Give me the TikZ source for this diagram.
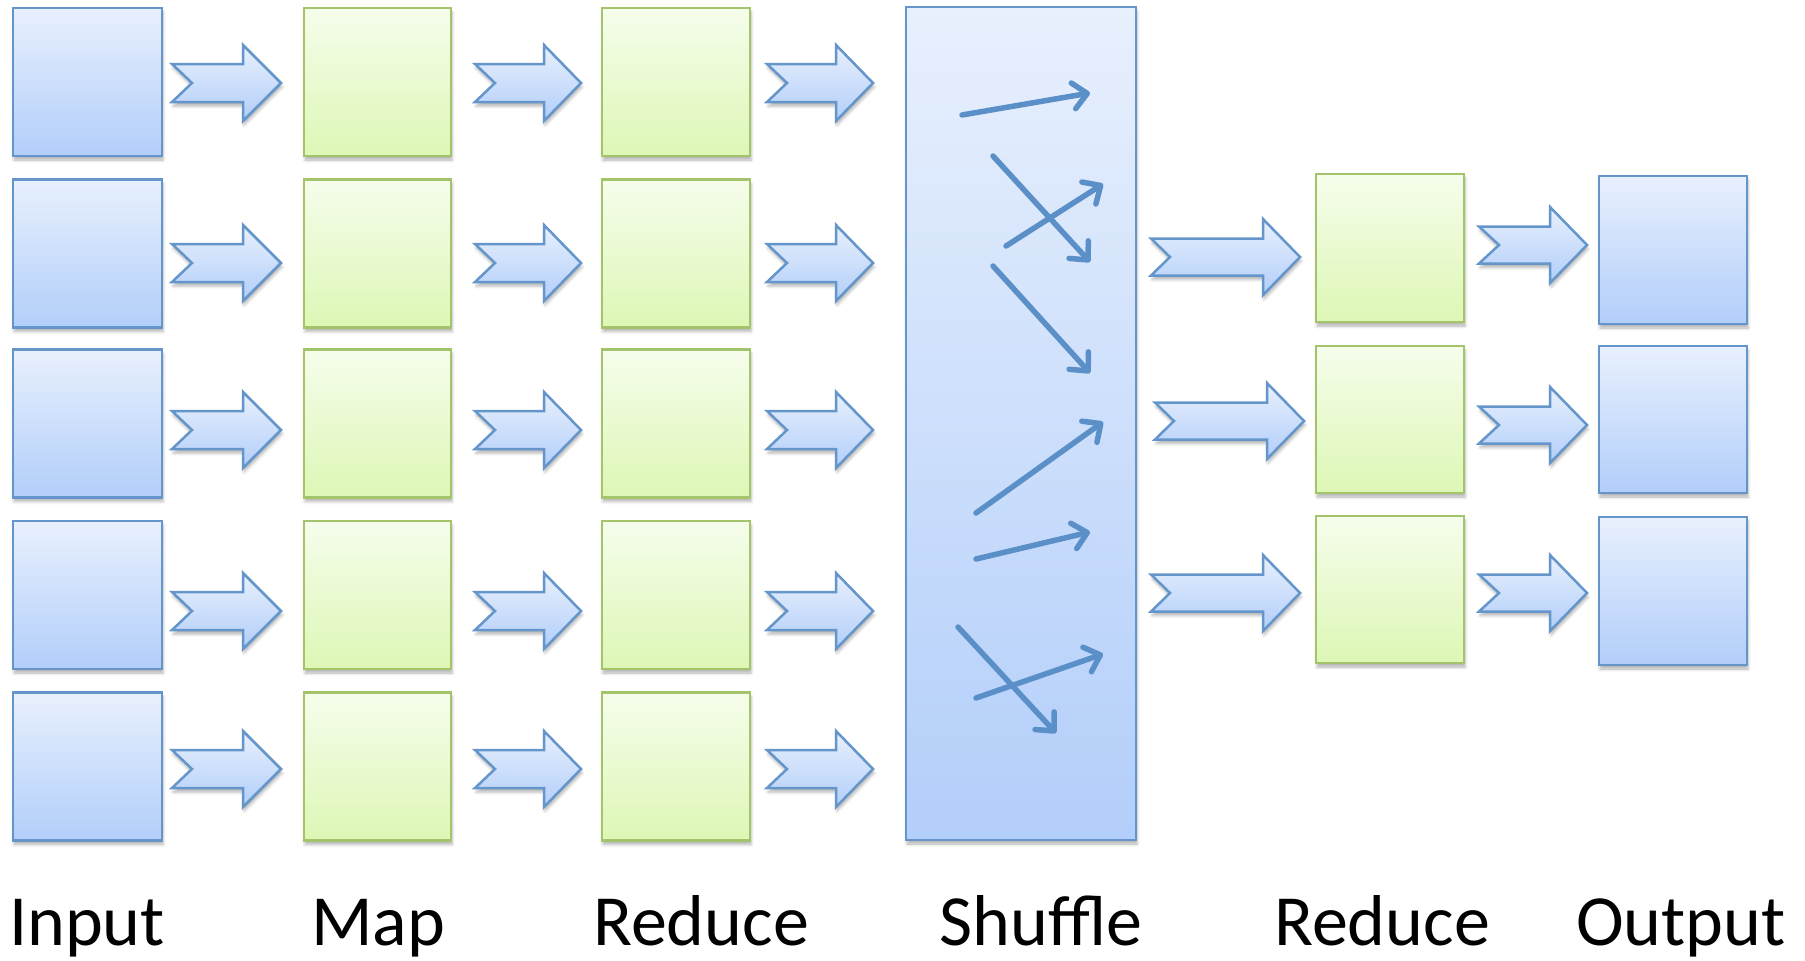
\documentclass[tikz,border=0pt]{standalone}
\usepackage{fontspec}
\setmainfont{Carlito}
\usetikzlibrary{arrows.meta,shadows.blur}

\definecolor{bluetop}{HTML}{E8F0FD}
\definecolor{bluebot}{HTML}{B2CEFA}
\definecolor{blueline}{HTML}{6496CB}
\definecolor{greentop}{HTML}{F6FDEC}
\definecolor{greenbot}{HTML}{DDF7B5}
\definecolor{greenline}{HTML}{A3C46A}
\definecolor{flowline}{HTML}{5B8FC8}

\tikzset{
  softshadow/.style={blur shadow={shadow xshift=1pt,shadow yshift=-4pt,shadow blur radius=3pt,shadow opacity=30}},
  bluebox/.style={draw=blueline,line width=2.5pt,top color=bluetop,bottom color=bluebot,
    inner sep=0pt,softshadow},
  greenbox/.style={draw=greenline,line width=2.5pt,top color=greentop,bottom color=greenbot,
    inner sep=0pt,softshadow},
  chevron/.style={draw=blueline,line width=2.5pt,line join=miter,top color=bluetop,bottom color=bluebot,softshadow},
  flow/.style={draw=flowline,line width=5.5pt,line cap=round,
    -{Straight Barb[length=14pt,width=26pt,round]}},
  label/.style={font=\fontsize{72}{86}\selectfont,anchor=base,inner sep=0pt},
}

% block arrow: left x, tip x, centre y, half shaft, half head, head length, notch depth
\newcommand{\chev}[7]{%
  \path[chevron] (#1,#3-#4) -- (#2-#6,#3-#4) -- (#2-#6,#3-#5) -- (#2,#3)
    -- (#2-#6,#3+#5) -- (#2-#6,#3+#4) -- (#1,#3+#4) -- (#1+#7,#3) -- cycle;}

\begin{document}
\begin{tikzpicture}[x=1pt,y=-1pt]
\useasboundingbox (0,0) rectangle (1805,961);

% input, map and first reduce columns
\foreach \i/\y in {1/82,2/253.5,3/423.5,4/595,5/766.5}{
  \node[bluebox,minimum width=149pt,minimum height=148pt] (in\i) at (87.5,\y) {};
  \node[greenbox,minimum width=147pt,minimum height=148pt] (map\i) at (377.5,\y) {};
  \node[greenbox,minimum width=148pt,minimum height=148pt] (red\i) at (676,\y) {};
}

% block arrows between the columns
\foreach \ay in {83,263,430,611,769}{
  \chev{172}{281}{\ay}{19}{38}{38}{20}
  \chev{475}{581}{\ay}{19}{38}{37}{20}
  \chev{767}{873}{\ay}{19}{38}{37}{20}
}

% shuffle stage
\node[bluebox,minimum width=230pt,minimum height=833pt] (shuf) at (1021,423.5) {};
\draw[flow] (962,115) -- (1090,93);
\draw[flow] (993,156) -- (1090,262);
\draw[flow] (1006,246) -- (1103,184);
\draw[flow] (993,266) -- (1090,373);
\draw[flow] (976,513) -- (1103,422);
\draw[flow] (976,559) -- (1090,532);
\draw[flow] (958,627) -- (1056,733);
\draw[flow] (976,698) -- (1103,654);

% second reduce and output columns
\node[greenbox,minimum width=148pt,minimum height=148pt] (rtwo1) at (1390,248) {};
\node[greenbox,minimum width=148pt,minimum height=147pt] (rtwo2) at (1390,419.5) {};
\node[greenbox,minimum width=148pt,minimum height=147pt] (rtwo3) at (1390,589.5) {};
\node[bluebox,minimum width=148pt,minimum height=148pt] (out1) at (1673,250) {};
\node[bluebox,minimum width=148pt,minimum height=147pt] (out2) at (1673,419.5) {};
\node[bluebox,minimum width=148pt,minimum height=148pt] (out3) at (1673,591) {};

\chev{1151}{1300}{257}{18.5}{38}{37}{19}
\chev{1155}{1304}{421}{18.5}{38}{37}{19}
\chev{1151}{1300}{593}{18.5}{38}{37}{19}
\chev{1479}{1587}{245}{18.5}{38}{37}{20}
\chev{1479}{1587}{425}{18.5}{38}{37}{20}
\chev{1479}{1587}{593}{18.5}{38}{37}{20}

% stage labels
\node[label] (lin) at (87,945) {Input};
\node[label] (lmap) at (378,945) {Map};
\node[label] (lred) at (701,945) {Reduce};
\node[label] (lshuf) at (1041,945) {Shuffle};
\node[label] (lredtwo) at (1382,945) {Reduce};
\node[label] (lout) at (1681,945) {Output};
\end{tikzpicture}
\end{document}
